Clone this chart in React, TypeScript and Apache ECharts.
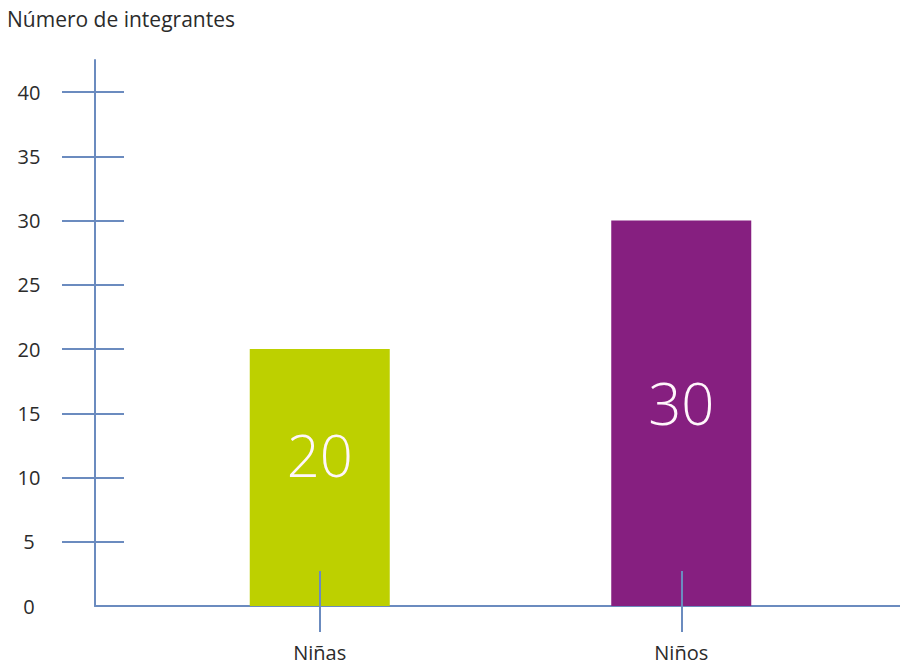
import * as echarts from "echarts"
import { useEffect, useRef } from "react"

const categories = ["Niñas", "Niños"]
const values = [20, 30]
const barColors = ["#bdd000", "#861f80"]
const yTicks = [0, 5, 10, 15, 20, 25, 30, 35, 40]
const yTitle = "Número de integrantes"

const AXIS = "#6b8bbf"
const TEXT = "#2b2b2b"
const FONT = "'Open Sans', 'DejaVu Sans', sans-serif"

export default function App(): React.ReactElement {
  const ref = useRef<HTMLDivElement>(null)

  useEffect(() => {
    const node = ref.current
    if (!node) return
    const chart = echarts.init(node, undefined, { renderer: "svg" })

    // shared y range; the axis line runs a bit above the last tick
    const yMin = 0
    const yMax = 42.5
    const tickVals = yTicks.filter((v) => v > 0)

    const yBase = {
      type: "value" as const,
      position: "left" as const,
      min: yMin,
      max: yMax,
      splitLine: { show: false },
    }

    chart.setOption({
      animation: false,
      backgroundColor: "#ffffff",
      textStyle: { fontFamily: FONT },
      title: {
        text: yTitle,
        left: 2,
        top: 3,
        textStyle: { fontFamily: FONT, fontSize: 21, fontWeight: "normal", color: TEXT },
      },
      grid: [
        // full-width frame for the axes
        { left: 95, right: 0, top: 60, bottom: 60 },
        // narrower grid holding the bars
        { left: 139, right: 38, top: 60, bottom: 60 },
      ],
      yAxis: [
        {
          ...yBase,
          gridIndex: 0,
          axisLine: { show: true, lineStyle: { color: AXIS, width: 2 } },
          axisTick: {
            show: true,
            length: 33,
            customValues: tickVals,
            lineStyle: { color: AXIS, width: 2 },
          },
          axisLabel: {
            customValues: yTicks,
            margin: 66,
            fontSize: 20,
            color: TEXT,
            fontFamily: FONT,
            align: "center",
          },
        },
        {
          ...yBase,
          gridIndex: 0,
          axisLine: { show: false },
          axisTick: {
            show: true,
            inside: true,
            length: 29,
            customValues: tickVals,
            lineStyle: { color: AXIS, width: 2 },
          },
          axisLabel: { show: false },
        },
        {
          ...yBase,
          gridIndex: 1,
          show: false,
        },
      ],
      xAxis: [
        {
          type: "value",
          gridIndex: 0,
          position: "bottom",
          min: 0,
          max: 1,
          axisLine: { show: true, onZero: false, lineStyle: { color: AXIS, width: 2 } },
          axisTick: { show: false },
          axisLabel: { show: false },
          splitLine: { show: false },
        },
        {
          type: "category",
          gridIndex: 1,
          position: "bottom",
          data: categories,
          axisLine: { show: false, onZero: false },
          axisTick: {
            show: true,
            alignWithLabel: true,
            length: 26,
            lineStyle: { color: AXIS, width: 2 },
          },
          axisLabel: { margin: 36, fontSize: 20, color: TEXT, fontFamily: FONT },
        },
        {
          type: "category",
          gridIndex: 1,
          position: "bottom",
          data: categories,
          axisLine: { show: false, onZero: false },
          axisTick: {
            show: true,
            inside: true,
            alignWithLabel: true,
            length: 35,
            lineStyle: { color: AXIS, width: 2 },
          },
          axisLabel: { show: false },
          z: 10,
        },
      ],
      series: [
        {
          type: "bar",
          xAxisIndex: 1,
          yAxisIndex: 2,
          barWidth: 140,
          data: values.map((v, i) => ({
            value: v,
            itemStyle: { color: barColors[i] },
            label: { offset: [0, i === 0 ? -23 : -11] },
          })),
          label: {
            show: true,
            position: "inside",
            color: "#fff6fb",
            fontSize: 58,
            fontWeight: 300,
            fontFamily: FONT,
          },
        },
      ],
    })

    return () => chart.dispose()
  }, [])

  return (
    <div
      ref={ref}
      style={{ position: "fixed", left: 0, top: 0, width: 900, height: 666, background: "#fff" }}
    />
  )
}
